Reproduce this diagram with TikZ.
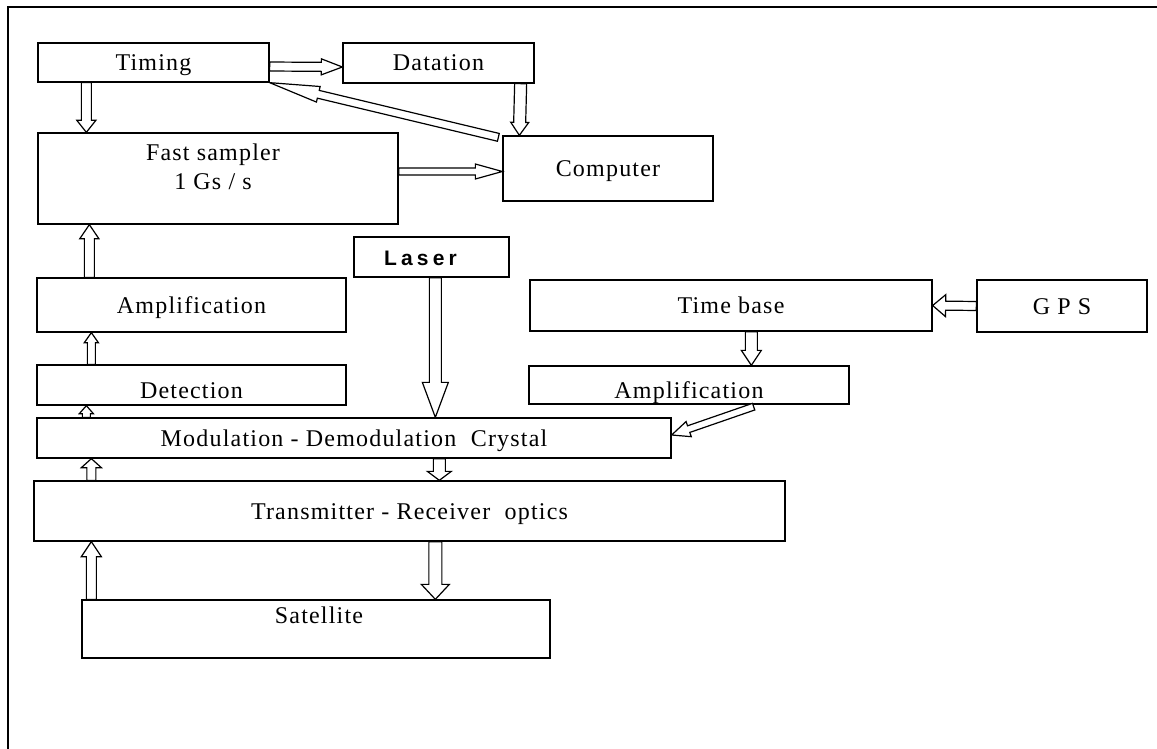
\documentclass[tikz,border=0pt]{standalone}
\usepackage{fontspec}
\setmainfont{Liberation Serif}[LetterSpace=5]
\newfontfamily\laserfont{Liberation Sans}[LetterSpace=20]
\usetikzlibrary{calc,fit}
\tikzset{
  box/.style={draw, line width=0.65pt, inner sep=0pt},
  txt/.style={font=\fontsize{12}{14.5}\selectfont, inner sep=0pt, align=center},
  every label/.style={txt, text height=8pt, text depth=0pt},
  arr/.style={draw, line width=0.6pt, fill=white, line join=miter},
  frameline/.style={line width=0.8pt}
}
% #2 from, #3 to, #4 shaft half width, #5 head half width, #6 head length (px)
\newcommand\barrow[6][]{%
  \draw[arr,#1] let \p1=#2, \p2=#3,
    \n1={atan2(\y2-\y1,\x2-\x1)}, \n2={veclen(\x2-\x1,\y2-\y1)} in
    [shift={(\p1)}, rotate=\n1]
    (0pt,{-#4*0.5pt}) -- ({\n2*1pt-#6*0.5pt},{-#4*0.5pt})
    -- ({\n2*1pt-#6*0.5pt},{-#5*0.5pt}) -- ({\n2*1pt},0pt)
    -- ({\n2*1pt-#6*0.5pt},{#5*0.5pt}) -- ({\n2*1pt-#6*0.5pt},{#4*0.5pt})
    -- (0pt,{#4*0.5pt}) -- cycle;}
\begin{document}
\begin{tikzpicture}[x=0.5pt, y=-0.5pt]
\useasboundingbox (0,0) rectangle (1157,749);
% frame
\coordinate (ftl) at (8,7);
\coordinate (ftr) at (1157,7);
\coordinate (fbl) at (8,749);
\draw[frameline] (ftr) -- (ftl) -- (fbl);
% boxes
\node[box, fit={(38,43) (269,82)}, label=center:Timing] (timing) {};
\node[box, fit={(343,43) (534,83)}, label=center:Datation] (datation) {};
\node[box, fit={(38,133) (398,224)}] (fast) {};
\node[txt] (fasttxt) at ($(fast.center)+(-5,-12)$) {Fast sampler\\1 Gs / s};
\node[box, fit={(503,136) (713,201)}, label=center:Computer] (computer) {};
\node[box, fit={(354,237) (509,277)},
  label={[xshift=-5.5pt, font=\laserfont\bfseries\fontsize{10.5}{11}\selectfont]center:Laser}] (laser) {};
\node[box, fit={(37,278) (346,332)}, label=center:Amplification] (ampL) {};
\node[box, fit={(530,280) (932,331)}, label=center:Time base] (timebase) {};
\node[box, fit={(977,280) (1147,332)}, label=center:G P S] (gps) {};
\node[box, fit={(37,365) (346,405)}, label={[yshift=-2.5pt]center:Detection}] (detection) {};
\node[box, fit={(529,366) (849,404)}, label={[yshift=-2.5pt]center:Amplification}] (ampR) {};
\node[box, fit={(37,418) (671,458)}, label=center:Modulation - Demodulation\ \ Crystal] (mod) {};
\node[box, fit={(34,481) (785,541)}, label=center:Transmitter - Receiver\ \ optics] (trans) {};
\node[box, fit={(82,600) (550,658)}] (sat) {};
\node[txt] (sattxt) at ($(sat.north)+(3,16)$) {Satellite};
% arrows
\coordinate (fc) at ($(computer.west)+(0,3)$);
\barrow{($(timing.east)+(0,4)$)}{($(datation.west)+(0,4)$)}{4.5}{8}{21}
\barrow{($(timing.south west)+(49,0)$)}{($(fast.north west)+(49,0)$)}{5}{9.5}{12}
\barrow{($(datation.south east)+(-14,0)$)}{($(computer.north west)+(17,0)$)}{6}{9}{13}
\barrow{($(computer.north west)+(-4,2)$)}{(timing.south east)}{4}{8}{50}
\barrow{(fast.east |- fc)}{(fc)}{3.5}{7.5}{27}
\barrow{($(ampL.north west)+(53,0)$)}{($(fast.south west)+(52,0)$)}{5}{9.5}{14}
\barrow{($(detection.north west)+(55,0)$)}{($(ampL.south west)+(55,0)$)}{4}{7}{10}
\barrow{($(mod.north west)+(50,0)$)}{($(detection.south west)+(50,0)$)}{4}{7}{8}
\barrow{($(trans.north west)+(58,0)$)}{($(mod.south west)+(55,0)$)}{4.5}{10}{9}
\barrow{($(sat.north west)+(10,0)$)}{($(trans.south west)+(58,0)$)}{5}{10}{15}
\barrow{($(trans.south west)+(402,0)$)}{($(sat.north west)+(354,0)$)}{6.5}{14}{15}
\barrow{($(mod.south west)+(403,0)$)}{($(trans.north west)+(406,0)$)}{6}{12}{9}
\barrow{($(laser.south west)+(82,0)$)}{($(mod.north west)+(399,0)$)}{6}{13}{35}
\barrow{(gps.west)}{(timebase.east)}{4.5}{11}{13}
\barrow{($(timebase.south west)+(222,0)$)}{($(ampR.north west)+(223,0)$)}{6}{10}{15}
\barrow{($(ampR.south east)+(-96,2)$)}{($(mod.east)+(0,-3)$)}{3.5}{8}{18}
\end{tikzpicture}
\end{document}
